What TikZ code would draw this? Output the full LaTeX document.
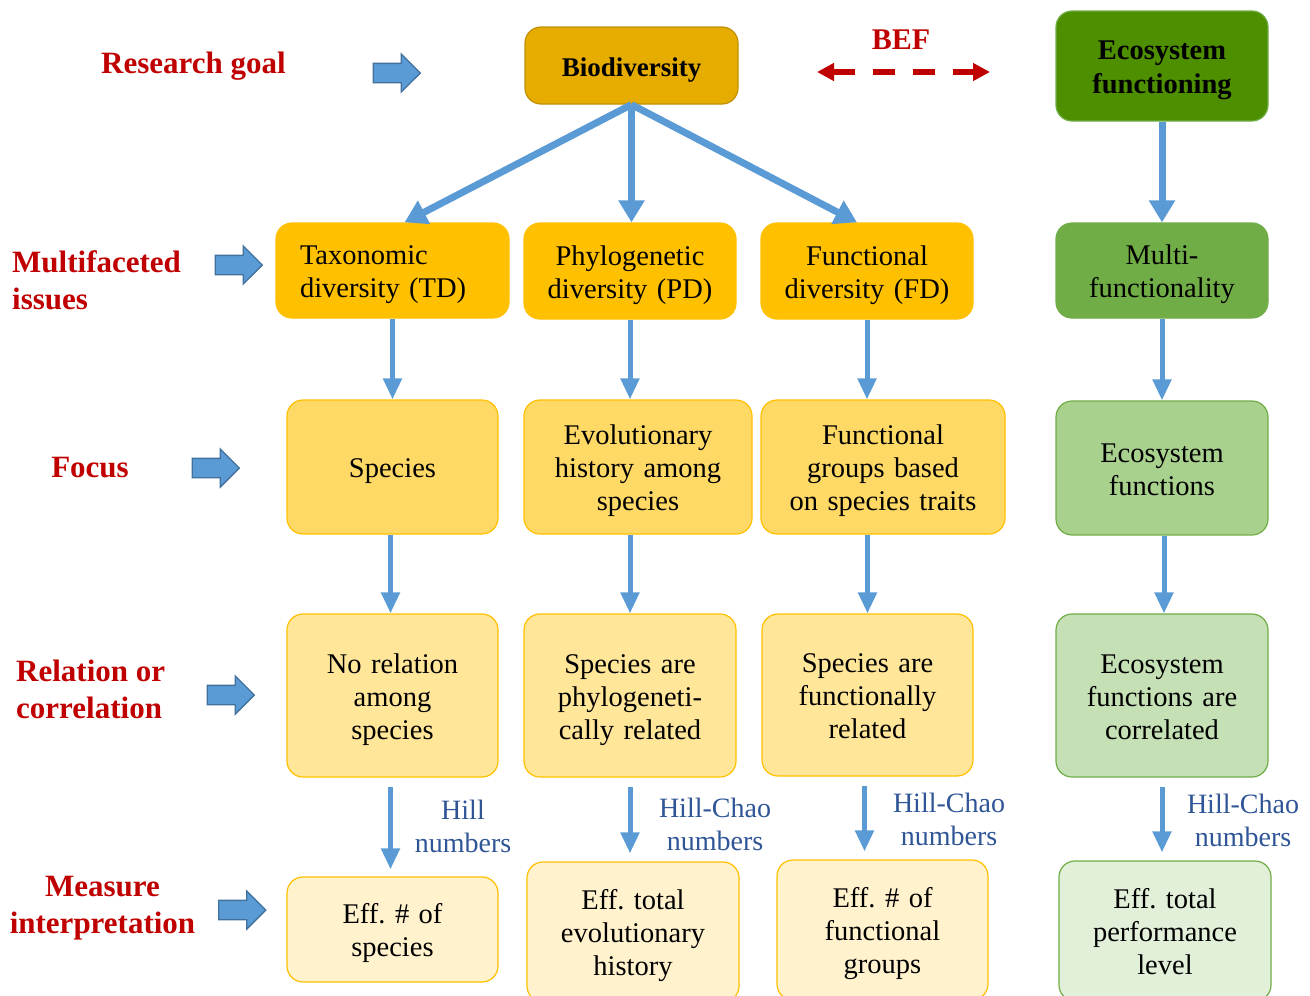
\documentclass[tikz,border=0pt]{standalone}
\usepackage{fontspec}
\setmainfont{Liberation Serif}
\usetikzlibrary{arrows.meta,shapes.arrows}

\definecolor{goalred}{HTML}{C00000}
\definecolor{linkblue}{HTML}{5B9BD5}
\definecolor{pointerline}{HTML}{41719C}
\definecolor{hillblue}{HTML}{2F5597}
\definecolor{biogold}{HTML}{E6AC00}
\definecolor{biogoldline}{HTML}{BF9000}
\definecolor{ecogreen}{HTML}{4E8F00}
\definecolor{gold}{HTML}{FFC000}
\definecolor{goldlight}{HTML}{FFD966}
\definecolor{goldpale}{HTML}{FFE699}
\definecolor{goldfaint}{HTML}{FFF2CC}
\definecolor{green}{HTML}{70AD47}
\definecolor{greenlight}{HTML}{A9D18E}
\definecolor{greenpale}{HTML}{C5E0B4}
\definecolor{greenfaint}{HTML}{E2F0D9}

\begin{document}
\begin{tikzpicture}[x=1pt, y=-1pt,
  facet/.style ={rectangle, rounded corners=16pt, draw, line width=1.2pt, align=center, text width=200pt, inner sep=0pt, font=\fontsize{28.5}{33}\selectfont\frenchspacing,
    execute at begin node={\rule{0pt}{28.5pt}}, execute at end node={\rule[-7.5pt]{0pt}{0pt}}},
  heading/.style ={font=\bfseries\fontsize{31}{37}\selectfont, text=goalred, inner sep=0pt},
  pointer/.style ={single arrow, draw=pointerline, fill=linkblue, line width=1.3pt, minimum height=47pt, minimum width=37pt, inner xsep=0pt, inner ysep=9pt, single arrow head extend=9.5pt},
  mainlink/.style ={draw=linkblue, line width=7pt, -{Triangle[width=25pt,length=22pt]}},
  link/.style ={draw=linkblue, line width=5pt, -{Triangle[width=18pt,length=21pt]}},
  hill/.style ={font=\fontsize{28}{33}\selectfont, text=hillblue, align=center, inner sep=0pt}]
 \useasboundingbox (0,0) rectangle (1310,996);
 \clip (0,0) rectangle (1310,996);
 % row headings
 \node[heading] (goal) at (193.5,66) {Research goal};
 \node[heading, anchor=west, align=left] (issues) at (12,280) {Multifaceted\\issues};
 \node[heading] (focus) at (90,468) {Focus};
 \node[heading, anchor=west, align=left] (relation) at (16,689) {Relation or\\correlation};
 \node[heading, align=center] (measure) at (102.5,908.5) {Measure\\interpretation};
 \node[pointer] (p1) at (392,73) {};
 \node[pointer] (p2) at (234,265) {};
 \node[pointer] (p3) at (211,468) {};
 \node[pointer] (p4) at (226,695) {};
 \node[pointer] (p5) at (237.5,910) {};
 % top boxes
 \node[facet, fill=biogold, draw=biogoldline, minimum width=213pt, minimum height=77pt,
   font=\bfseries\fontsize{27}{33}\selectfont] (bio) at (631.5,65.5) {Biodiversity};
 \node[facet, fill=ecogreen, draw=green, minimum width=212pt, minimum height=110pt,
   font=\bfseries\fontsize{28.5}{34}\selectfont] (ecof) at (1162,66) {Ecosystem\\functioning};
 \node[heading, font=\bfseries\fontsize{30}{36}\selectfont] (bef) at (901,40) {BEF};
 \coordinate (befl) at (817,72);
 \coordinate (befr) at (990,72);
 \draw[goalred, line width=6pt, dash pattern=on 22pt off 18pt,
   {Triangle[width=17pt,length=17pt]}-{Triangle[width=17pt,length=17pt]}] (befl) -- (befr);
 % multifaceted issues
 \node[facet, fill=gold, draw=gold, minimum width=233pt, minimum height=95pt, text width=185pt, align=left] (td) at (392.5,270.5) {Taxonomic\\diversity (TD)};
 \node[facet, fill=gold, draw=gold, minimum width=212pt, minimum height=96pt] (pd) at (630,271) {Phylogenetic\\diversity (PD)};
 \node[facet, fill=gold, draw=gold, minimum width=212pt, minimum height=96pt] (fd) at (867,271) {Functional\\diversity (FD)};
 \node[facet, fill=green, draw=green, minimum width=212pt, minimum height=95pt] (mf) at (1162,270.5) {Multi-\\functionality};
 % focus
 \node[facet, fill=goldlight, draw=gold, minimum width=211pt, minimum height=134pt] (sp) at (392.5,467) {Species};
 \node[facet, fill=goldlight, draw=gold, minimum width=228pt, minimum height=134pt] (evo) at (638,467) {Evolutionary\\history among\\species};
 \node[facet, fill=goldlight, draw=gold, minimum width=244pt, minimum height=134pt] (fg) at (883,467) {Functional\\groups based\\on species traits};
 \node[facet, fill=greenlight, draw=green, minimum width=212pt, minimum height=134pt] (ef) at (1162,468) {Ecosystem\\functions};
 % relation or correlation
 \node[facet, fill=goldpale, draw=gold, minimum width=211pt, minimum height=163pt] (nr) at (392.5,695.5) {No relation\\among\\species};
 \node[facet, fill=goldpale, draw=gold, minimum width=212pt, minimum height=163pt] (spp) at (630,695.5) {Species are\\phylogeneti-\\cally related};
 \node[facet, fill=goldpale, draw=gold, minimum width=211pt, minimum height=162pt] (spf) at (867.5,695) {Species are\\functionally\\related};
 \node[facet, fill=greenpale, draw=green, minimum width=212pt, minimum height=163pt] (efc) at (1162,695.5) {Ecosystem\\functions are\\correlated};
 % measure interpretation
 \node[facet, fill=goldfaint, draw=gold, minimum width=211pt, minimum height=105pt] (effsp) at (392.5,929.5) {Eff. \# of\\species};
 \node[facet, fill=goldfaint, draw=gold, minimum width=212pt, minimum height=140pt] (efftot) at (633,932) {Eff. total\\evolutionary\\history};
 \node[facet, fill=goldfaint, draw=gold, minimum width=211pt, minimum height=140pt] (efffg) at (882.5,930) {Eff. \# of\\functional\\groups};
 \node[facet, fill=greenfaint, draw=green, minimum width=212pt, minimum height=140pt] (effperf) at (1165,931) {Eff. total\\performance\\level};
 \node[hill] (h1) at (463,826.5) {Hill\\numbers};
 \node[hill] (h2) at (715,824) {Hill-Chao\\numbers};
 \node[hill] (h3) at (949,819.5) {Hill-Chao\\numbers};
 \node[hill] (h4) at (1243,820) {Hill-Chao\\numbers};
 % connectors
 \draw[mainlink] (bio.south) -- ([xshift=12pt]td.north);
 \draw[mainlink] (bio.south) -- (bio.south |- pd.north);
 \draw[mainlink] (bio.south) -- ([xshift=-10pt]fd.north);
 \draw[mainlink] (ecof) -- (mf);
 \draw[link] (td) -- (sp);
 \draw[link] (pd) -- (pd |- evo.north);
 \draw[link] (fd) -- (fd |- fg.north);
 \draw[link] (mf) -- (ef);
 \draw[link] ([xshift=-2pt]sp.south) -- ([xshift=-2pt]nr.north);
 \draw[link] (evo.south -| spp) -- (spp);
 \draw[link] (fg.south -| spf) -- (spf);
 \draw[link] ([xshift=2pt]ef.south) -- ([xshift=2pt]efc.north);
 \draw[link, shorten <=9pt, shorten >=7pt] ([xshift=-2pt]nr.south) -- ([xshift=-2pt]effsp.north);
 \draw[link, shorten <=9pt, shorten >=8pt] (spp.south) -- (spp.south |- efftot.north);
 \draw[link, shorten <=9pt, shorten >=8pt] ([xshift=-3pt]spf.south) -- ([xshift=-3pt]spf.south |- efffg.north);
 \draw[link, shorten <=9pt, shorten >=8pt] (efc.south) -- (efc.south |- effperf.north);
\end{tikzpicture}
\end{document}
